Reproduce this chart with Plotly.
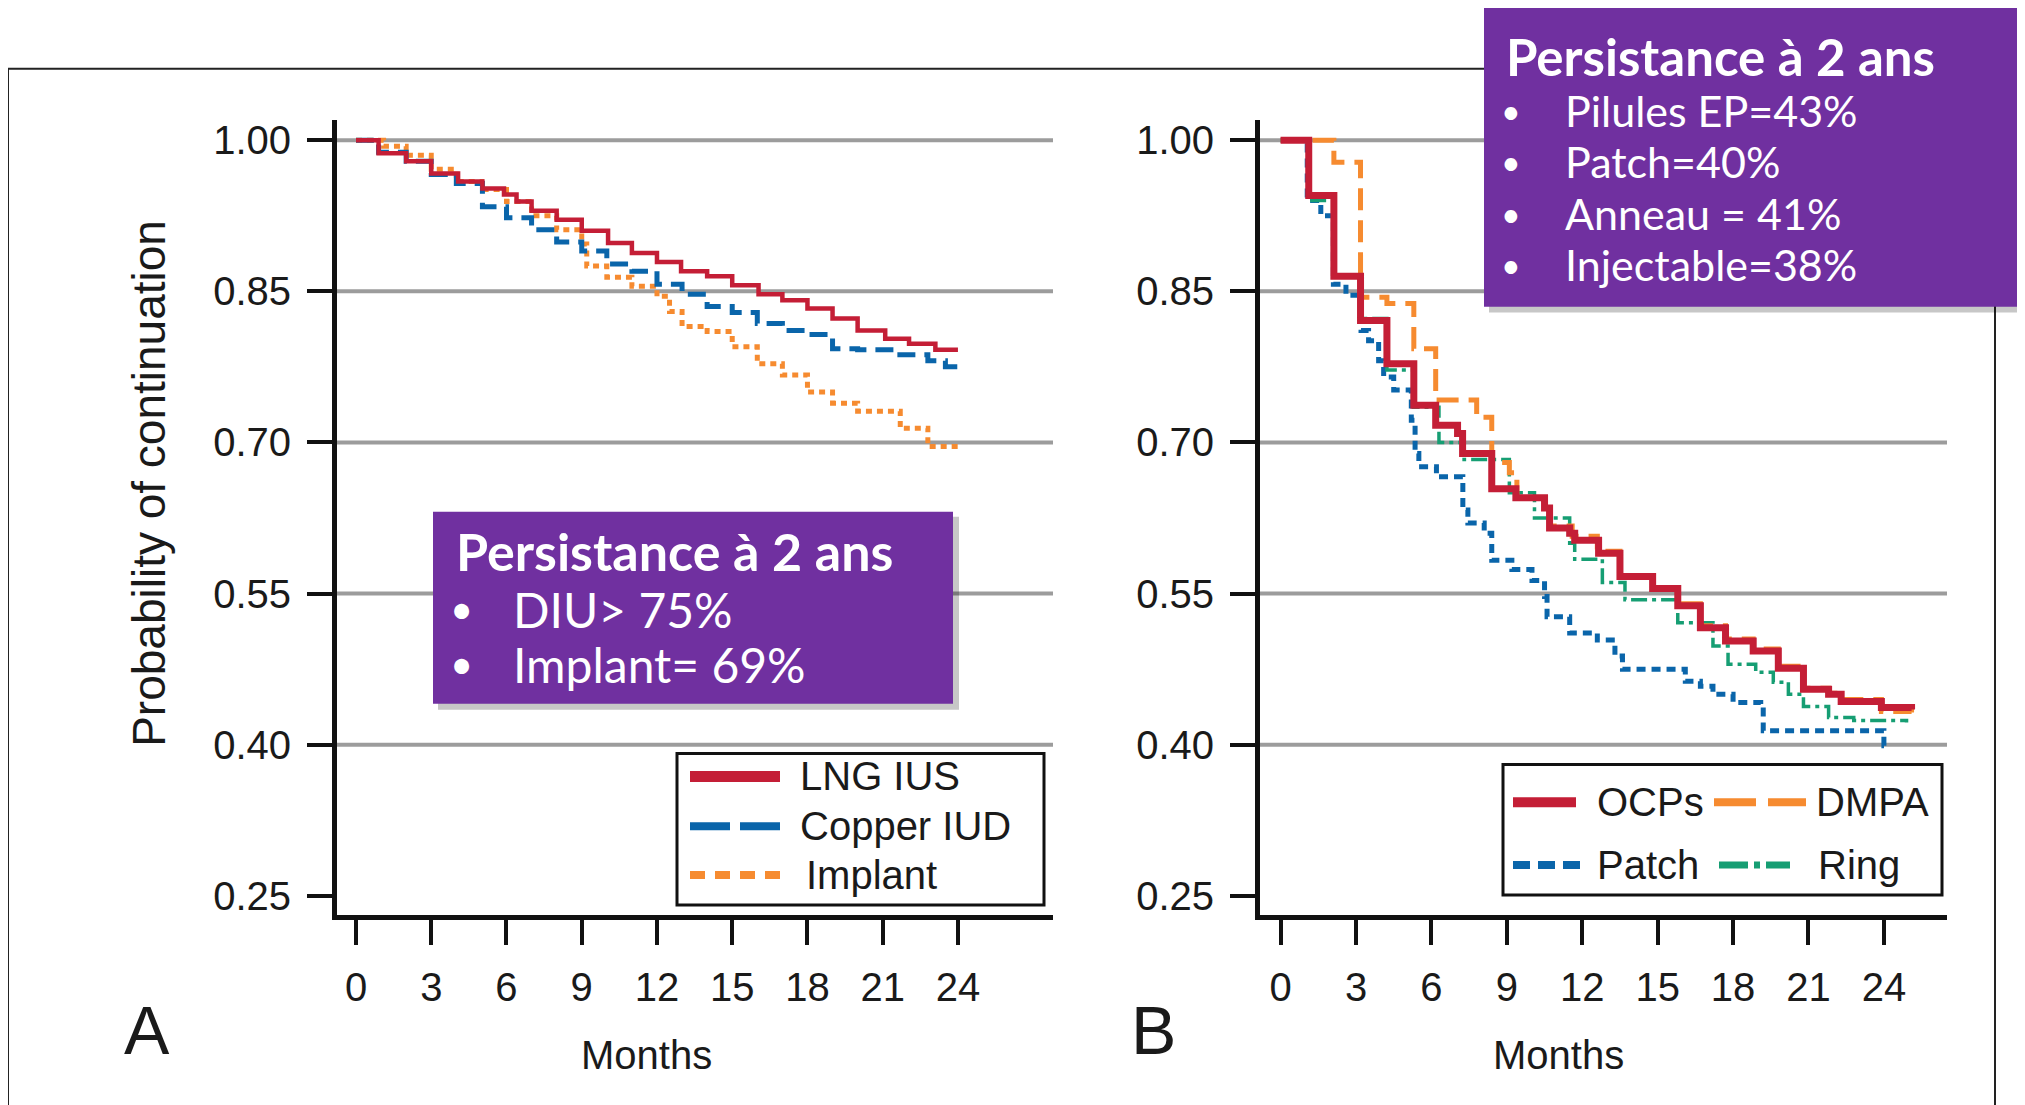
import plotly.graph_objects as go

# The page body has an 8px margin, so the figure is 8px smaller and every
# target pixel position is shifted by -8 when converted to paper coords.
OFF = 8
W, H = 2025 - OFF, 1105 - OFF

# ---------------- data ----------------
month_ticks = [0, 3, 6, 9, 12, 15, 18, 21, 24]
prob_ticks = [0.25, 0.40, 0.55, 0.70, 0.85, 1.00]
grid_vals = [0.40, 0.55, 0.70, 0.85, 1.00]

# Panel A
lng_t = [0, 0.9, 2.0, 3.0, 4.07, 5.04, 5.9, 6.4, 7.0, 8.0, 9.0, 10.05, 11.0, 12.0, 12.96,
         14.0, 15.0, 16.05, 17.0, 18.0, 19.0, 20.0, 21.1, 22.05, 23.1, 24.0]
lng_s = [1.0, 0.987, 0.979, 0.967, 0.959, 0.952, 0.946, 0.939, 0.930, 0.921, 0.910, 0.898,
         0.888, 0.879, 0.870, 0.865, 0.856, 0.847, 0.841, 0.833, 0.823, 0.811, 0.803, 0.798,
         0.792, 0.792]

cu_t = [0, 0.9, 2.0, 3.0, 4.0, 5.04, 6.0, 7.0, 8.0, 9.0, 10.0, 11.0, 12.0, 13.0, 14.0, 15.0,
        16.0, 17.0, 18.0, 19.0, 20.0, 21.5, 22.8, 23.5, 24.0]
cu_s = [1.0, 0.988, 0.979, 0.966, 0.957, 0.934, 0.923, 0.911, 0.899, 0.890, 0.877, 0.870,
        0.857, 0.847, 0.835, 0.829, 0.818, 0.811, 0.807, 0.793, 0.792, 0.787, 0.781, 0.775,
        0.775]

im_t = [0, 1.1, 2.0, 3.0, 4.0, 5.0, 6.0, 7.0, 8.0, 9.0, 9.2, 10.0, 11.0, 12.0, 12.5, 13.0,
        14.0, 15.0, 16.0, 17.0, 18.0, 19.0, 20.0, 21.7, 22.8, 24.0]
im_s = [1.0, 0.994, 0.985, 0.971, 0.959, 0.951, 0.939, 0.925, 0.911, 0.897, 0.875, 0.864,
        0.855, 0.845, 0.830, 0.815, 0.810, 0.795, 0.778, 0.767, 0.750, 0.739, 0.731, 0.714,
        0.696, 0.693]

# Panel B
ocp_t = [0, 1.12, 2.12, 3.18, 4.23, 5.3, 6.17, 7.04, 7.24, 8.4, 9.36, 10.5, 10.7, 11.5, 11.7,
         12.65, 13.5, 14.8, 15.8, 16.7, 17.7, 18.8, 19.8, 20.8, 21.8, 22.3, 23.9, 25.1]
ocp_s = [1.0, 0.945, 0.865, 0.821, 0.778, 0.737, 0.717, 0.709, 0.689, 0.654, 0.645, 0.635,
         0.615, 0.610, 0.603, 0.590, 0.567, 0.555, 0.538, 0.516, 0.503, 0.493, 0.476, 0.455,
         0.450, 0.443, 0.437, 0.435]

dmpa_t = [0, 2.12, 3.18, 4.23, 5.3, 6.17, 7.8, 8.4, 9.1, 9.4, 10.5, 10.7, 11.6, 12.6, 13.5,
          14.8, 15.8, 16.7, 17.7, 18.8, 19.8, 20.8, 21.8, 22.3, 23.9, 25.1]
dmpa_s = [1.0, 0.978, 0.844, 0.838, 0.793, 0.742, 0.725, 0.680, 0.670, 0.645, 0.637, 0.617,
          0.607, 0.592, 0.568, 0.556, 0.540, 0.518, 0.505, 0.495, 0.478, 0.456, 0.451, 0.445,
          0.433, 0.432]

ring_t = [0, 1.12, 2.12, 3.18, 4.23, 5.3, 6.3, 7.3, 9.1, 10.1, 11.5, 11.7, 12.8, 13.7, 15.8,
          17.2, 17.8, 18.9, 19.6, 20.2, 20.8, 21.8, 22.8, 24.9]
ring_s = [1.0, 0.940, 0.866, 0.823, 0.772, 0.735, 0.700, 0.683, 0.650, 0.625, 0.600, 0.584,
          0.561, 0.544, 0.521, 0.498, 0.480, 0.472, 0.462, 0.450, 0.438, 0.427, 0.424, 0.422]

patch_t = [0, 1.06, 1.6, 2.1, 2.6, 3.2, 3.5, 3.9, 4.1, 4.5, 5.2, 5.35, 5.5, 6.2, 7.25, 7.45,
           8.1, 8.4, 9.2, 10.0, 10.5, 10.6, 11.5, 12.6, 13.3, 13.6, 16.1, 16.7, 17.2, 18.0,
           19.1, 19.2, 24.0, 24.05]
patch_s = [1.0, 0.940, 0.925, 0.857, 0.846, 0.811, 0.801, 0.781, 0.765, 0.752, 0.722, 0.689,
           0.676, 0.666, 0.633, 0.620, 0.610, 0.583, 0.574, 0.563, 0.547, 0.527, 0.511, 0.504,
           0.488, 0.475, 0.463, 0.458, 0.450, 0.442, 0.437, 0.414, 0.399, 0.399]

legend_a = ["LNG IUS", "Copper IUD", "Implant"]
legend_b = ["OCPs", "DMPA", "Patch", "Ring"]
box_title = "Persistance à 2 ans"
box_a_items = ["DIU> 75%", "Implant= 69%"]
box_b_items = ["Pilules EP=43%", "Patch=40%", "Anneau = 41%", "Injectable=38%"]
y_title = "Probability of continuation"
x_title = "Months"

# ---------------- styles ----------------
RED = "#C41E36"
BLUE = "#0A65AA"
ORANGE = "#F68B30"
GREEN = "#169E73"
PURPLE = "#7030A0"
INK = "#1a1a1a"
SANS = "Liberation Sans, Arial, sans-serif"
BOXF = "Lato, Noto Sans, sans-serif"


def fx(p):
    return (p - OFF) / W


def fy(p):
    return 1 - (p - OFF) / H


fig = go.Figure()


def step(t, s, name, color, width, dash, xa, ya):
    fig.add_trace(go.Scatter(
        x=t, y=s, mode="lines", name=name, xaxis=xa, yaxis=ya, showlegend=False,
        line=dict(shape="hv", color=color, width=width, dash=dash), hoverinfo="x+y+name"))


step(im_t, im_s, "Implant", ORANGE, 5, "6px,5px", "x", "y")
step(cu_t, cu_s, "Copper IUD", BLUE, 5, "18px,9px", "x", "y")
step(lng_t, lng_s, "LNG IUS", RED, 4.5, "solid", "x", "y")

step(patch_t, patch_s, "Patch", BLUE, 5, "9px,6px", "x2", "y2")
step(ring_t, ring_s, "Ring", GREEN, 3.5, "16px,5px,4px,5px", "x2", "y2")
step(dmpa_t, dmpa_s, "DMPA", ORANGE, 5, "22px,10px", "x2", "y2")
step(ocp_t, ocp_s, "OCPs", RED, 7, "solid", "x2", "y2")

tickfont = dict(family=SANS, size=40, color=INK)
ydom = [fy(917), fy(119)]
yrange = [0.2312, 1.0195]


def yaxis_cfg(anchor):
    return dict(domain=ydom, range=yrange, anchor=anchor, tickvals=prob_ticks,
                ticktext=[f"{v:.2f}" for v in prob_ticks], showgrid=False, zeroline=False,
                showline=True, linewidth=5, linecolor="#111", ticks="outside", ticklen=25,
                tickwidth=4, tickcolor="#111", tickfont=tickfont, fixedrange=True,
                ticklabelstandoff=8)


def xaxis_cfg(dom, rng, anchor):
    return dict(domain=dom, range=rng, anchor=anchor, tickvals=month_ticks,
                ticktext=[str(v) for v in month_ticks], showgrid=False, zeroline=False,
                showline=True, linewidth=5, linecolor="#111", ticks="outside", ticklen=25,
                tickwidth=4, tickcolor="#111", tickfont=tickfont, fixedrange=True,
                ticklabelstandoff=8)


shapes = []
# outer frame
shapes.append(dict(type="rect", xref="paper", yref="paper", x0=fx(8), x1=fx(1995),
                   y0=fy(1125), y1=fy(67), line=dict(color="#222", width=2),
                   fillcolor="rgba(0,0,0,0)", layer="above"))
# gridlines
for xr, yr in (("x domain", "y"), ("x2 domain", "y2")):
    for v in grid_vals:
        shapes.append(dict(type="line", xref=xr, yref=yr, x0=0, x1=1, y0=v, y1=v,
                           line=dict(color="#9c9c9c", width=4), layer="below"))

annotations = []


def text(x, y, s, size, family=SANS, color=INK, xanchor="left", bold=False, angle=0):
    annotations.append(dict(x=fx(x), y=fy(y), xref="paper", yref="paper",
                            text=(f"<b>{s}</b>" if bold else s), textangle=angle,
                            showarrow=False, xanchor=xanchor, yanchor="middle",
                            font=dict(family=family, size=size, color=color)))


def seg(x0, x1, y, color, width, dash="solid"):
    shapes.append(dict(type="line", xref="paper", yref="paper", x0=fx(x0), x1=fx(x1),
                       y0=fy(y), y1=fy(y), line=dict(color=color, width=width, dash=dash),
                       layer="above"))


def rect(x0, y0, x1, y1, fill, line_color=None, lw=0):
    shapes.append(dict(type="rect", xref="paper", yref="paper", x0=fx(x0), x1=fx(x1),
                       y0=fy(y1), y1=fy(y0), fillcolor=fill,
                       line=dict(color=line_color or fill, width=lw), layer="above"))


# axis titles
text(149, 484, y_title, 46, xanchor="center", angle=-90)
text(646, 1058, x_title, 40, xanchor="center")
text(1558, 1058, x_title, 40, xanchor="center")

# legend A
rect(677, 755, 1044, 907, "white", "#111", 3)
seg(690, 780, 778, RED, 11)
seg(690, 780, 828, BLUE, 8, "40px,10px")
seg(690, 780, 877, ORANGE, 8, "15px,10px")
text(798, 778, legend_a[0], 40)
text(798, 828, legend_a[1], 40)
text(804, 877, legend_a[2], 40)

# legend B
rect(1503, 766, 1942, 897, "white", "#111", 3)
seg(1513, 1576, 804, RED, 10)
seg(1714, 1806, 804, ORANGE, 8, "42px,12px")
seg(1513, 1581, 867, BLUE, 8, "17px,8px")
seg(1719, 1790, 867, GREEN, 7, "29px,6px,6px,6px")
text(1595, 804, legend_b[0], 40)
text(1814, 804, legend_b[1], 40)
text(1595, 867, legend_b[2], 40)
text(1816, 867, legend_b[3], 40)

# purple box A
rect(438, 517, 959, 711, "rgba(0,0,0,0.22)")
rect(433, 512, 953, 705, PURPLE)
text(454, 551, box_title, 52, BOXF, "white", bold=True)
for i, s in enumerate(box_a_items):
    yy = 610 + i * 55
    text(461, yy, "•", 40, BOXF, "white", xanchor="center")
    text(511, yy, s, 48, BOXF, "white")

# purple box B
rect(1489, 11, 2025, 312, "rgba(0,0,0,0.22)")
rect(1484, 6, 2020, 306, PURPLE)
text(1504, 55, box_title, 51, BOXF, "white", bold=True)
for i, s in enumerate(box_b_items):
    yy = 109 + i * 51.5
    text(1511, yy, "•", 34, BOXF, "white", xanchor="center")
    text(1563, yy, s, 43, BOXF, "white")

# panel letters
text(147, 1033, "A", 68, xanchor="center")
text(1153, 1033, "B", 68, xanchor="center")

fig.update_layout(
    width=W, height=H, margin=dict(l=0, r=0, t=0, b=0),
    paper_bgcolor="white", plot_bgcolor="white", showlegend=False,
    xaxis=xaxis_cfg([fx(337), fx(1053)], [-0.758, 27.79], "y"),
    yaxis=yaxis_cfg("x"),
    xaxis2=xaxis_cfg([fx(1260), fx(1947)], [-0.819, 26.51], "y2"),
    yaxis2=yaxis_cfg("x2"),
    shapes=shapes, annotations=annotations,
)

fig.write_html("out.html")
